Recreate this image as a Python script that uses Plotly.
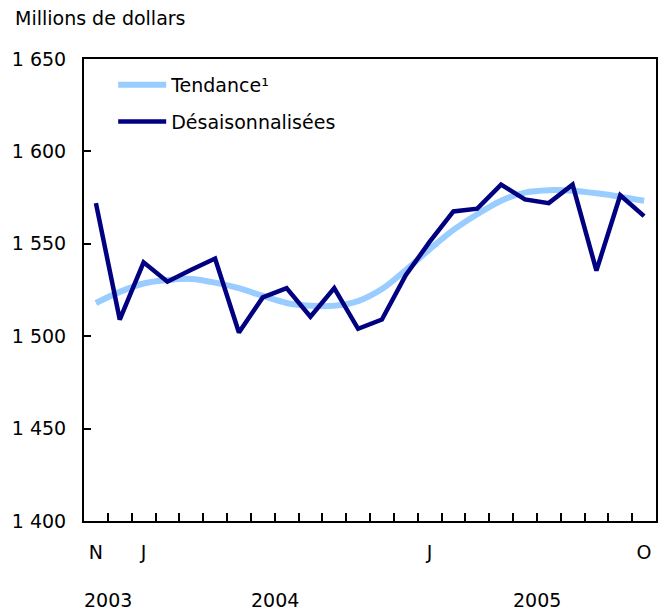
import plotly.graph_objects as go

months = ["N", "D", "J", "F", "M", "A", "M", "J", "J", "A", "S", "O", "N", "D",
          "J", "F", "M", "A", "M", "J", "J", "A", "S", "O"]
month_labels_shown = {0: "N", 2: "J", 14: "J", 23: "O"}
years = ["2003", "2004", "2005"]
year_centers = [0.5, 7.5, 18.5]

trend = [1518, 1524, 1528.5, 1530.4, 1531, 1529, 1526, 1521.8, 1518, 1516.5, 1516.5, 1519,
         1525.5, 1535.8, 1547, 1557.5, 1566, 1573.3, 1577.7, 1579, 1578.7, 1577.3, 1575.5, 1573.3]
sa = [1572, 1509, 1540, 1529.5, 1536, 1542, 1502, 1521, 1526, 1510.5, 1526, 1504,
      1509, 1533, 1551, 1567.5, 1569, 1582, 1574, 1572, 1582, 1535.5, 1576.3, 1565]

y_ticks = [1400, 1450, 1500, 1550, 1600, 1650]
y_ticktext = ["1 400", "1 450", "1 500", "1 550", "1 600", "1 650"]

x = list(range(len(months)))
FONT = "DejaVu Sans, Arial, sans-serif"
FS = 19

fig = go.Figure()
fig.add_trace(go.Scatter(x=x, y=trend, mode="lines", name="Tendance¹",
                         line=dict(color="#99CCFF", width=6, shape="spline", smoothing=0.8),
                         legendgroup="a"))
fig.add_trace(go.Scatter(x=x, y=sa, mode="lines", name="Désaisonnalisées",
                         line=dict(color="#000080", width=4.5),
                         legendgroup="b"))
# helper trace to activate the label axis
fig.add_trace(go.Scatter(x=[None], y=[None], xaxis="x2", showlegend=False, hoverinfo="skip"))

boundaries = [i + 0.5 for i in range(len(months) - 1)]

fig.update_layout(
    width=670, height=611,
    margin=dict(l=84, r=14, t=59, b=90),
    paper_bgcolor="white", plot_bgcolor="white",
    font=dict(family=FONT, size=FS, color="black"),
    showlegend=True,
    legend=dict(x=0.051, y=0.985, xanchor="left", yanchor="top",
                bgcolor="rgba(0,0,0,0)", font=dict(size=FS),
                tracegroupgap=9, traceorder="grouped", itemwidth=48),
    xaxis=dict(range=[-0.5, len(months) - 0.5], tickmode="array",
               tickvals=boundaries, ticktext=[""] * len(boundaries),
               ticks="inside", ticklen=8, tickwidth=1.5, tickcolor="black",
               showline=True, linecolor="black", linewidth=2, mirror=True,
               showgrid=False, zeroline=False),
    xaxis2=dict(range=[-0.5, len(months) - 0.5], overlaying="x", side="bottom",
                tickmode="array", tickvals=list(month_labels_shown.keys()),
                ticktext=list(month_labels_shown.values()), ticks="",
                showline=False, showgrid=False, zeroline=False,
                tickfont=dict(size=FS), anchor="y", ticklabelstandoff=18),
    yaxis=dict(range=[1400, 1650], tickmode="array", tickvals=y_ticks,
               ticktext=y_ticktext, ticks="inside", ticklen=7, tickwidth=1.5,
               tickcolor="black", showline=True, linecolor="black", linewidth=2,
               mirror=True, showgrid=False, zeroline=False,
               ticklabelstandoff=12),
)

for yr, c in zip(years, year_centers):
    fig.add_annotation(text=yr, x=c, xref="x", y=-0.172, yref="paper",
                       showarrow=False, font=dict(size=FS), yanchor="middle")

fig.add_annotation(text="Millions de dollars", x=-71 / 572, xref="paper", xanchor="left",
                   y=1 + (59 - 18) / 462, yref="paper", yanchor="middle", showarrow=False)

fig.write_html("out.html", config={"displayModeBar": False},
               post_script="document.body.style.margin='0';")
